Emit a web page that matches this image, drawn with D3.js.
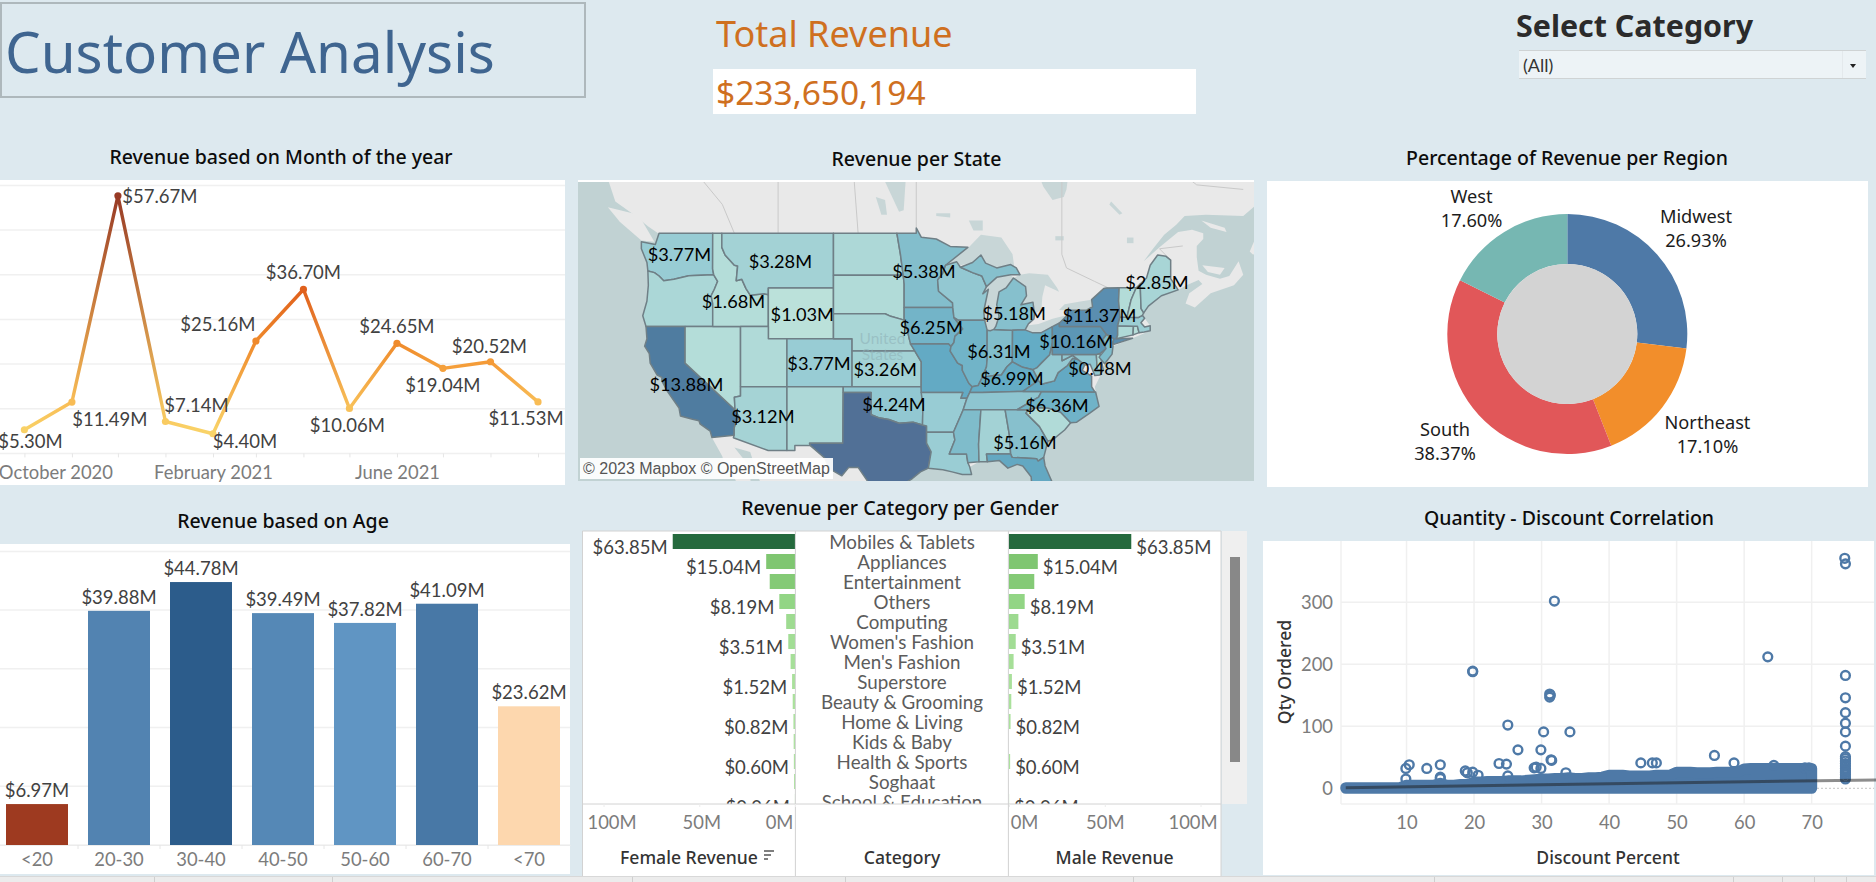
<!DOCTYPE html>
<html>
<head>
<meta charset="utf-8">
<script src="https://cdn.jsdelivr.net/npm/d3@7"></script>
<style>
  body { margin:0; background:#dde9ef; overflow:hidden; }
  svg { display:block; }
  text { font-family:Lato, sans-serif; }
  .ttl { font-family:"Noto Sans", sans-serif; font-weight:500; font-size:19.5px; fill:#0c0c0c; text-anchor:middle; dominant-baseline:central; }
  .val { font-size:18.5px; fill:#414141; dominant-baseline:central; }
  .maplab { font-size:18.2px; fill:#000; text-anchor:middle; dominant-baseline:central; }
  .tick-lab { font-size:18.4px; fill:#7c7c7c; }
  .axt { font-family:"Noto Sans", sans-serif; font-weight:500; font-size:17.6px; fill:#333; text-anchor:middle; dominant-baseline:central; }
  .head { font-family:"Noto Sans", sans-serif; }
</style>
</head>
<body>
<script>
// ---- line chart
const months = ["2020-10-01","2020-11-01","2020-12-01","2021-01-01","2021-02-01","2021-03-01","2021-04-01","2021-05-01","2021-06-01","2021-07-01","2021-08-01","2021-09-01"];
const monthRevenue = [5.30,11.49,57.67,7.14,4.40,25.16,36.70,10.06,24.65,19.04,20.52,11.53];

// ---- region donut
const regions = ["Midwest","Northeast","South","West"];
const regionShare = [26.93,17.10,38.37,17.60];

// ---- age bars
const ageGroups = ["<20","20-30","30-40","40-50","50-60","60-70","<70"];
const ageRevenue = [6.97,39.88,44.78,39.49,37.82,41.09,23.62];

// ---- category / gender
const categories = ["Mobiles & Tablets","Appliances","Entertainment","Others","Computing","Women's Fashion","Men's Fashion","Superstore","Beauty & Grooming","Home & Living","Kids & Baby","Health & Sports","Soghaat","School & Education"];
const femaleRevenue = [63.85,15.04,13.2,8.19,4.6,3.51,2.3,1.52,1.2,0.82,0.7,0.60,0.5,0.06];
const maleRevenue = [63.85,15.04,13.2,8.19,4.9,3.51,2.4,1.52,1.2,0.82,0,0.60,0,0.06];
const labelledRows = [0,1,3,5,7,9,11,13];

// ---- scatter
const outlierDiscount = [74.9,75,31.9,63.5,75,19.8,19.8,31.2,31.2,31.3,75,75,75,75,75,25,30.3,34.2,26.5,29.9,31.4,31.5,55.6,58.5,44.7,46.4,47,64.4,10.4,9.9,13,15,18.7,19,19.8,20.6,23.7,24.8,25,28.9,29.2,29.9,33.6,75,75,75,75,75,75,75,75,75,75,75,9.9,15,15,69,69.6];
const outlierQty = [371,362,302,212,182,188,189,152,147,150,146,122,105,91,68,102,91,91,62,62,46,45,53,41,41,41,41,37,38,32,32,38,28,25,26,21,40,39,20,33,34,32,25,51,48,44,40,36,32,28,25,22,18,15,15,18,16,33,33];
const bandDiscount = [1,2,3,4,5,6,7,8,9,10,11,12,13,14,15,16,17,18,19,20,21,22,23,24,25,26,27,28,29,30,31,32,33,34,35,36,37,38,39,40,41,42,43,44,45,46,47,48,49,50,51,52,53,54,55,56,57,58,59,60,61,62,63,64,65,66,67,68,69,70];
const bandQty = [1,1,1,1,1,1,1,1,1,5,5,5,5,5,8,5,5,6,6,10,10,11,11,11,12,12,12,13,14,15,15,16,16,17,16,16,17,17,18,21,21,21,20,20,20,20,21,21,21,26,26,26,25,25,25,26,26,26,26,31,32,32,32,32,32,32,32,32,32,32];
const trendDiscount = [1,80];
const trendQty = [1,13.6];

// ---- map, rings are lon/lat
const stateNames = ["WA","OR","CA","NV","ID","MT","WY","UT","CO","AZ","NM","ND","SD","NE","KS","OK","TX","MN","IA","MO","AR","LA","WI","IL","IN","MI","MI upper","OH","KY","TN","MS","AL","GA","FL","SC","NC","VA","WV","MD","DE","PA","NY","NJ","CT","RI","MA","VT","NH","ME"];
const stateRevenue = [3.77,2.5,13.88,1.7,1.68,3.28,1.03,2.1,3.77,3.12,2.4,2.4,2.0,2.7,3.26,4.24,14.8,5.38,6.25,7.3,3.8,3.7,4.2,6.31,5.5,5.18,5.18,7.0,6.99,4.6,5.6,3.3,5.16,7.6,2.0,6.36,7.4,4.1,4.3,2.0,10.16,11.37,5.6,2.2,1.5,3.6,1.8,1.6,2.85];
const stateRings = [
 [[-124.7,48.4],[-123.2,48.2],[-122.8,49],[-117.03,49],[-117.04,46.42],[-116.92,45.99],[-119,45.93],[-119.6,45.92],[-121.2,45.65],[-122.3,45.55],[-122.8,45.9],[-123.3,46.15],[-124,46.27],[-124.1,46.9],[-124.7,47.9]],
 [[-124,46.27],[-123.3,46.15],[-122.8,45.9],[-122.3,45.55],[-121.2,45.65],[-119.6,45.92],[-119,45.93],[-116.92,45.99],[-116.5,45.5],[-116.85,44.9],[-117.2,44.4],[-117.03,43.8],[-117.03,42],[-124.2,42],[-124.55,42.85],[-124.1,44],[-123.95,45.2]],
 [[-124.2,42],[-120,42],[-120,39],[-114.63,35],[-114.15,34.3],[-114.5,33.9],[-114.72,33.4],[-114.72,32.72],[-117.12,32.53],[-117.3,33.1],[-118.4,33.75],[-118.5,34.03],[-119.2,34.15],[-120.5,34.45],[-120.65,35.15],[-121.9,36.6],[-122.5,37.5],[-122.5,37.8],[-123,38],[-123.75,39],[-123.85,39.8],[-124.35,40.4],[-124.1,41]],
 [[-120,42],[-114.04,42],[-114.04,36.2],[-114.7,36.1],[-114.63,35],[-120,39]],
 [[-117.03,49],[-116.05,49],[-116.05,48],[-115.7,47.45],[-114.7,46.7],[-114.35,46.65],[-114.5,45.55],[-113.9,45.65],[-113.45,44.95],[-113,44.45],[-111.5,44.55],[-111.05,44.48],[-111.05,42],[-117.03,42],[-117.03,43.8],[-117.2,44.4],[-116.85,44.9],[-116.5,45.5],[-116.92,45.99],[-117.04,46.42]],
 [[-116.05,49],[-104.05,49],[-104.05,45],[-111.05,45],[-111.05,44.48],[-111.5,44.55],[-113,44.45],[-113.45,44.95],[-113.9,45.65],[-114.5,45.55],[-114.35,46.65],[-114.7,46.7],[-115.7,47.45],[-116.05,48]],
 [[-111.05,45],[-104.05,45],[-104.05,41],[-111.05,41]],
 [[-114.04,42],[-111.05,42],[-111.05,41],[-109.05,41],[-109.05,37],[-114.04,37]],
 [[-109.05,41],[-102.05,41],[-102.05,37],[-109.05,37]],
 [[-114.04,37],[-109.05,37],[-109.05,31.33],[-111.07,31.33],[-114.81,32.5],[-114.72,32.72],[-114.72,33.4],[-114.5,33.9],[-114.15,34.3],[-114.63,35],[-114.7,36.1],[-114.04,36.2]],
 [[-109.05,37],[-103,37],[-103.05,32],[-106.62,32],[-106.53,31.78],[-108.2,31.78],[-108.2,31.33],[-109.05,31.33]],
 [[-104.05,49],[-97.23,49],[-96.85,47.5],[-96.55,45.95],[-104.05,45.95]],
 [[-104.05,45.95],[-96.55,45.95],[-96.45,45.3],[-96.45,42.5],[-97.9,42.8],[-98.5,43],[-104.05,43]],
 [[-104.05,43],[-98.5,43],[-97.9,42.8],[-96.45,42.5],[-96.1,41.7],[-95.9,41],[-95.3,40],[-102.05,40],[-102.05,41],[-104.05,41]],
 [[-102.05,40],[-95.3,40],[-94.61,39.1],[-94.62,37],[-102.05,37]],
 [[-103,37],[-94.62,37],[-94.43,35.4],[-94.48,33.64],[-95.5,33.9],[-97,33.8],[-98.1,34.13],[-99.2,34.3],[-100,34.56],[-100,36.5],[-103,36.5]],
 [[-106.62,32],[-103.05,32],[-103,36.5],[-100,36.5],[-100,34.56],[-99.2,34.3],[-98.1,34.13],[-97,33.8],[-95.5,33.9],[-94.48,33.64],[-94.04,33.55],[-94.04,32],[-93.55,31.2],[-93.85,29.7],[-94.7,29.35],[-95.6,28.7],[-97.1,27.9],[-97.4,27],[-97.15,25.96],[-98.2,26.05],[-99.1,26.4],[-99.5,27.5],[-100.4,28.5],[-101.4,29.77],[-102.4,29.77],[-103.15,28.98],[-104.5,29.65],[-105,30.65],[-106.53,31.78]],
 [[-97.23,49],[-95.15,49],[-95.15,49.38],[-94.6,48.72],[-93,48.6],[-91.5,48.07],[-89.6,48],[-92,46.7],[-92.3,46.1],[-92.85,45.6],[-92.75,44.75],[-91.25,43.85],[-91.22,43.5],[-96.45,43.5],[-96.45,45.3],[-96.55,45.95],[-96.85,47.5]],
 [[-96.45,43.5],[-91.22,43.5],[-91.1,42.7],[-90.15,41.8],[-91,41.2],[-91.1,40.7],[-91.42,40.38],[-91.7,40.6],[-95.77,40.58],[-95.9,41],[-96.1,41.7],[-96.45,42.5]],
 [[-95.77,40.58],[-91.7,40.6],[-91.42,40.38],[-91.5,40],[-90.7,39],[-90.2,38.8],[-90.2,38.4],[-89.5,37.3],[-89.13,37],[-89.4,36.5],[-89.7,36],[-90.37,36],[-90.15,36.5],[-94.62,36.5],[-94.62,37],[-94.61,39.1],[-95.3,40]],
 [[-94.62,36.5],[-90.15,36.5],[-90.37,36],[-89.7,36],[-90.1,35],[-91.15,33],[-94.04,33],[-94.04,33.55],[-94.48,33.64],[-94.43,35.4]],
 [[-94.04,33],[-91.15,33],[-91,32.3],[-91.6,31],[-89.75,31],[-89.6,30.2],[-89.4,29.8],[-89.2,29.1],[-90.2,29.1],[-91.3,29.35],[-92.3,29.55],[-93.85,29.7],[-93.55,31.2],[-94.04,32]],
 [[-92.3,46.1],[-92,46.7],[-90.8,46.95],[-90.4,46.55],[-89.1,46.15],[-88.1,45.9],[-87.6,45.1],[-88,44.55],[-87.4,44.9],[-87.9,43.2],[-87.8,42.5],[-90.65,42.5],[-91.1,42.7],[-91.22,43.5],[-91.25,43.85],[-92.75,44.75],[-92.85,45.6]],
 [[-90.65,42.5],[-87.8,42.5],[-87.53,41.7],[-87.53,39.3],[-87.6,38.7],[-88.05,37.8],[-88.5,37.1],[-89.13,37],[-89.5,37.3],[-90.2,38.4],[-90.2,38.8],[-90.7,39],[-91.5,40],[-91.42,40.38],[-91.1,40.7],[-91,41.2],[-90.15,41.8],[-91.1,42.7]],
 [[-87.53,41.7],[-87.2,41.65],[-86.8,41.76],[-84.8,41.7],[-84.82,39.1],[-85.4,38.7],[-86,38],[-86.8,37.95],[-88.05,37.8],[-87.6,38.7],[-87.53,39.3]],
 [[-86.8,41.76],[-84.8,41.7],[-83.45,41.72],[-83.1,42.2],[-82.5,42.6],[-82.45,43],[-82.6,43.9],[-83.9,43.7],[-83.3,44.4],[-83.4,45.1],[-84.7,45.75],[-85.5,45],[-86.25,44.7],[-86.5,43.7],[-86.25,42.8],[-86.6,42]],
 [[-90.4,46.55],[-89.1,46.9],[-88.2,47.45],[-87.7,46.85],[-86.5,46.5],[-85,46.75],[-84.4,46.5],[-84,46],[-85,46],[-86.5,45.8],[-87.6,45.1],[-88.1,45.9],[-89.1,46.15]],
 [[-84.8,41.7],[-83.45,41.72],[-82.7,41.5],[-81.7,41.5],[-80.52,41.98],[-80.52,40.64],[-80.8,39.7],[-81.7,39],[-82.2,38.6],[-82.6,38.45],[-83.7,38.65],[-84.82,39.1]],
 [[-89.4,36.5],[-89.13,37],[-88.5,37.1],[-88.05,37.8],[-86.8,37.95],[-86,38],[-85.4,38.7],[-84.82,39.1],[-83.7,38.65],[-82.6,38.45],[-82,37.55],[-83.68,36.6],[-88.07,36.5]],
 [[-90.1,35],[-89.7,36],[-89.4,36.5],[-88.07,36.5],[-83.68,36.6],[-81.68,36.59],[-82,36.1],[-84.3,35]],
 [[-91.15,33],[-90.1,35],[-88.2,35],[-88.45,31.9],[-88.4,30.3],[-89.6,30.2],[-89.75,31],[-91.6,31],[-91,32.3]],
 [[-88.2,35],[-85.6,35],[-85.15,32.8],[-85,31],[-87.6,31],[-87.5,30.3],[-88.4,30.3],[-88.45,31.9]],
 [[-85.6,35],[-83.1,35],[-83.35,34.7],[-81.9,33.5],[-81,32.2],[-81.45,30.7],[-82.05,30.36],[-82.2,30.57],[-84.85,30.7],[-85,31],[-85.15,32.8]],
 [[-87.6,31],[-85,31],[-84.85,30.7],[-82.2,30.57],[-82.05,30.36],[-81.45,30.7],[-81.3,29.9],[-80.55,28.4],[-80.05,26.9],[-80.15,25.7],[-81.1,25.1],[-81.8,26.1],[-82.7,27.7],[-82.8,28.9],[-83.7,29.9],[-84.3,30.05],[-85.3,29.7],[-86.2,30.4],[-87.5,30.3]],
 [[-83.1,35],[-82.3,35.2],[-81,35.15],[-79.65,34.8],[-78.55,33.85],[-79.2,33.2],[-80.5,32.3],[-81,32.2],[-81.9,33.5],[-83.35,34.7]],
 [[-84.3,35],[-82,36.1],[-81.68,36.59],[-75.87,36.55],[-75.5,35.3],[-76.5,34.7],[-77.9,33.9],[-78.55,33.85],[-79.65,34.8],[-81,35.15],[-82.3,35.2],[-83.1,35]],
 [[-83.68,36.6],[-82,37.55],[-81.7,37.2],[-81.3,37.3],[-80.3,37.5],[-79.9,38.2],[-78.9,38.8],[-78.35,39.4],[-77.75,39.3],[-77.05,38.85],[-77.3,38.4],[-76.3,37.9],[-76.3,37],[-75.95,36.55],[-81.68,36.59]],
 [[-82.6,38.45],[-82.2,38.6],[-81.7,39],[-80.8,39.7],[-80.52,40.64],[-80.52,39.72],[-79.48,39.72],[-79.48,39.2],[-78.35,39.65],[-77.75,39.3],[-78.35,39.4],[-78.9,38.8],[-79.9,38.2],[-80.3,37.5],[-81.3,37.3],[-81.7,37.2],[-82,37.55]],
 [[-79.48,39.72],[-75.79,39.72],[-75.7,38.46],[-75.05,38.45],[-75.4,38],[-75.95,37.95],[-76.45,38.9],[-77.05,38.85],[-77.75,39.3],[-78.35,39.65],[-79.48,39.2]],
 [[-75.79,39.72],[-75.4,39.8],[-75.05,38.45],[-75.7,38.46]],
 [[-80.52,41.98],[-79.76,42.27],[-79.76,42],[-75.35,42],[-74.7,41.35],[-75.1,40.95],[-74.75,40.2],[-75.4,39.8],[-75.79,39.72],[-80.52,39.72]],
 [[-79.76,42.27],[-78.9,42.9],[-79.05,43.27],[-76.8,43.3],[-76.2,43.55],[-76.3,44.1],[-75,44.95],[-74.7,45],[-73.34,45.01],[-73.4,44],[-73.25,42.75],[-73.5,42.05],[-73.5,41.3],[-73.65,41],[-71.9,41.05],[-73.9,40.55],[-74.05,40.7],[-73.9,41],[-74.7,41.35],[-75.35,42],[-79.76,42]],
 [[-74.7,41.35],[-73.9,41],[-74.05,40.7],[-74,40.4],[-74.1,39.75],[-74.9,38.95],[-75.5,39.5],[-74.75,40.2],[-75.1,40.95]],
 [[-73.5,42.05],[-71.8,42.02],[-71.85,41.32],[-73.65,41],[-73.5,41.3]],
 [[-71.8,42.02],[-71.38,42.02],[-71.2,41.5],[-71.85,41.32]],
 [[-73.25,42.75],[-71.3,42.7],[-70.85,42.88],[-70.6,42.65],[-71,42.3],[-70.6,41.95],[-70,42.05],[-70,41.65],[-70.65,41.55],[-71.2,41.5],[-71.38,42.02],[-71.8,42.02],[-73.5,42.05]],
 [[-73.34,45.01],[-71.5,45.01],[-72.05,44.1],[-72.5,42.73],[-73.25,42.75],[-73.4,44]],
 [[-71.5,45.01],[-71.08,45.3],[-70.98,43.4],[-70.7,43.07],[-70.85,42.88],[-71.3,42.7],[-72.5,42.73],[-72.05,44.1]],
 [[-71.08,45.3],[-70.4,45.75],[-70,46.7],[-69.2,47.45],[-68.3,47.35],[-67.8,47.07],[-67.8,45.7],[-67,44.85],[-68.8,44.4],[-70.2,43.6],[-70.7,43.07],[-70.98,43.4]]
];
// labels stand where Tableau left them, not on state centres
const mapLabelValues = [3.77,3.28,1.68,1.03,3.77,3.26,13.88,3.12,4.24,5.38,6.25,5.18,11.37,10.16,6.31,6.99,0.48,6.36,5.16,2.85];
const mapLabelLon = [-120.61,-109.76,-114.8,-107.4,-105.6,-98.49,-119.85,-111.64,-97.54,-94.32,-93.55,-84.62,-75.45,-77.95,-86.26,-84.86,-75.4,-80.02,-83.46,-69.27];
const mapLabelLat = [47.5,46.98,44.02,42.96,39.0,38.48,37.2,34.42,35.48,46.26,41.92,43.04,42.92,40.8,39.98,37.72,38.6,35.44,32.08,45.48];

const landRings = [
 [[-135,54],[-129,54],[-128.2,52.5],[-127.5,51.2],[-125.5,50.3],[-124,49.5],[-122.9,49],[-122.5,48.6],[-122.4,47.5],[-122.9,47.2],[-123.3,48.1],[-124.7,48.4],[-124.1,46.9],[-124,46.27],[-123.95,45.2],[-124.1,44],[-124.55,42.85],[-124.2,42],[-124.1,41],[-124.35,40.4],[-123.85,39.8],[-123.75,39],[-123,38],[-122.5,37.8],[-122.5,37.5],[-121.9,36.6],[-120.65,35.15],[-120.5,34.45],[-119.2,34.15],[-118.5,34.03],[-118.4,33.75],[-117.3,33.1],[-117.12,32.53],[-116,30.8],[-115.7,29.8],[-114.7,28.8],[-114,27.5],[-112.8,27.5],[-113.2,30],[-114.7,31.6],[-113,31.2],[-112.2,29],[-111.5,27.5],[-97.6,25],[-97.15,25.9],[-97.4,27],[-97.1,27.9],[-95.6,28.7],[-94.7,29.35],[-93.85,29.7],[-89.2,29.1],[-89.4,29.8],[-88.4,30.3],[-87.5,30.3],[-86.2,30.4],[-85.3,29.7],[-84.3,30.05],[-83.7,29.9],[-82.8,28.9],[-82.7,27.7],[-80.5,25.5],[-80.05,26.9],[-80.55,28.4],[-81.3,29.9],[-81.45,30.7],[-81,32.2],[-80.5,32.3],[-79.2,33.2],[-78.55,33.85],[-77.9,33.9],[-76.5,34.7],[-75.5,35.3],[-75.87,36.55],[-75.95,37],[-75.05,38.45],[-74.9,38.95],[-74.1,39.75],[-74,40.4],[-71.9,41.05],[-70,41.65],[-70,42.05],[-70.85,42.88],[-70.2,43.6],[-68.8,44.4],[-67,44.85],[-66.1,45.2],[-64.8,45.6],[-64.4,45.3],[-65.8,44.6],[-66.2,43.8],[-65.2,43.5],[-63.5,44.6],[-61,45.2],[-60,46],[-60.5,47],[-61.5,45.9],[-62.5,45.7],[-64,46],[-64.8,46.3],[-65,47.3],[-65,48.1],[-64.3,48.6],[-64.3,49],[-65.5,49.25],[-67,49.1],[-69,48],[-70.7,47],[-69.7,47.9],[-68.5,48.9],[-67.2,49.6],[-66.3,50.2],[-64,50.3],[-60,50.2],[-58,51.3],[-56,52.5],[-55,54]],
 [[-128.3,50.8],[-125,50.3],[-123.3,48.4],[-124.7,48.5],[-127,49.8]],
 [[-59.3,47.7],[-57.5,50.5],[-56,51.5],[-55,51],[-52,47],[-59,47.5]],
 [[-64.5,49.9],[-62,49.4],[-61.8,49.1],[-63.5,49.4]],
 [[-64.4,46.7],[-62,46.5],[-62.5,46],[-63.8,46.2]]
];
const waterRings = [
 [[-92,46.7],[-90.8,46.95],[-90.4,46.7],[-89.1,46.9],[-88.2,47.45],[-87.7,46.85],[-86.5,46.5],[-85,46.75],[-84.6,46.5],[-84.8,47.5],[-86,48.7],[-88.2,48.9],[-89.5,48],[-90.8,47.6]],
 [[-86.5,45.8],[-85,46],[-84.7,45.75],[-85.5,45],[-86.25,44.7],[-86.5,43.7],[-86.25,42.8],[-86.6,42],[-86.8,41.76],[-87.2,41.65],[-87.53,41.7],[-87.8,42.5],[-87.9,43.2],[-87.4,44.9],[-88,44.55],[-87.6,45.1]],
 [[-84.7,45.75],[-84,46],[-83,46.1],[-81,46],[-80,45],[-79.8,44.7],[-81.3,45.2],[-81.6,44.3],[-81.7,43.3],[-82.45,43],[-82.6,43.9],[-83.9,43.7],[-83.3,44.4],[-83.4,45.1]],
 [[-83.45,41.72],[-82.7,41.5],[-81.7,41.5],[-80.52,41.98],[-79.76,42.27],[-78.9,42.9],[-80.5,42.6],[-82,42.2],[-83.1,42.1]],
 [[-79.8,43.3],[-79.05,43.27],[-76.8,43.3],[-76.2,43.55],[-76.3,44.1],[-77.5,43.95],[-79.2,43.75]],
 [[-81,53.5],[-82,53],[-81.5,52.2],[-80.5,51.3],[-79.3,51.5],[-79,52],[-78.8,53],[-79,54],[-81,54]],
 [[-98,53.5],[-96.3,52.5],[-96.5,50.6],[-97,50.5],[-98.5,52.5]],
 [[-99.5,51.5],[-98.5,51.3],[-98.3,50.3],[-98.9,50.3]],
 [[-89.5,49.9],[-88,49.9],[-88,49.2],[-89,49.2]],
 [[-93,50.4],[-91.5,50.4],[-91.5,50.1],[-93,50.2]],
 [[-80.2,48.8],[-79.3,48.8],[-79.3,48.5],[-80.2,48.5]],
 [[-72.5,48.7],[-71.8,48.7],[-71.8,48.3],[-72.5,48.3]],
 [[-74.2,51.2],[-73,50.4],[-73.3,50.3],[-74.4,51]]
];
const borderLines = [
 [[-120,54],[-120,53.8],[-118,52.5],[-116,51],[-114.7,49]],
 [[-110,54],[-110,49]],
 [[-102,54],[-101.4,49]],
 [[-95.15,53],[-95.15,49.4]],
 [[-79.5,54],[-79.5,47.5],[-79,46.5],[-76,45.5],[-74.5,45]],
 [[-67.8,47.07],[-69,47.9],[-66.5,48.1]],
 [[-66.5,53],[-65,52.3],[-60,52]]
];

const W = 1876, H = 882;
const svg = d3.select("body").append("svg").attr("width",W).attr("height",H);
const defs = svg.append("defs");

function box(x,y,w,h,fill){
  return svg.append("rect").attr("x",x).attr("y",y).attr("width",w).attr("height",h).attr("fill",fill);
}
function title(txt,x,y){
  svg.append("text").attr("class","ttl").attr("x",x).attr("y",y).text(txt);
}
const money = function(v){ return "$"+v.toFixed(2)+"M"; };

// ---------- header
box(1,3,584,94,"#dde9ef").attr("stroke","#aeb8bc").attr("stroke-width",2);
svg.append("text").attr("class","head").attr("x",5).attr("y",73).attr("font-size",56.5).attr("fill","#3f6590").text("Customer Analysis");
svg.append("text").attr("class","head").attr("x",716).attr("y",47).attr("font-size",36).attr("fill","#cf701f").text("Total Revenue");
box(713,69,483,45,"#fff");
svg.append("text").attr("class","head").attr("x",716).attr("y",105).attr("font-size",33.5).attr("fill","#cf701f").text("$233,650,194");
svg.append("text").attr("class","head").attr("x",1516).attr("y",37).attr("font-weight",700).attr("font-size",30.4).attr("fill","#2b2b2b").text("Select Category");
box(1519,50,347,29,"#edf3f6");
box(1519,50,347,1,"#cfd3d4");
box(1519,78,347,1,"#cfd3d4");
box(1842,51,1,27,"#e4e9ec");
svg.append("text").attr("x",1523).attr("y",72).attr("font-size",18).attr("fill","#333").text("(All)");
svg.append("path").attr("d",d3.line()([[1850,64],[1856,64],[1853,68]])).attr("fill","#222");

// ---------- line chart
title("Revenue based on Month of the year",281,156);
box(0,180,565,305,"#fff");
const parseDay = d3.utcParse("%Y-%m-%d");
const monthDates = months.map(parseDay);
const xLine = d3.scaleUtc().domain([monthDates[0],monthDates[11]]).range([24.4,538]);
const yLine = d3.scaleLinear().domain([0,60]).range([453.4,185.4]);
const lineColor = d3.scaleLinear().domain([4.4,11.5,20,25,36.7,57.67]).range(["#f9d469","#f8bc55","#f59c38","#ef8a2b","#e0601c","#983a25"]);

svg.append("g").selectAll("line").data(yLine.ticks(6)).enter().append("line")
  .attr("x1",0).attr("x2",565)
  .attr("y1",function(d){ return yLine(d); }).attr("y2",function(d){ return yLine(d); })
  .attr("stroke","#f0f0f0").attr("stroke-width",1.5);

const xLineLabels = {"2020-10-01":"October 2020","2021-02-01":"February 2021","2021-06-01":"June 2021"};
const xLineAxis = svg.append("g").attr("transform","translate(0,453.4)")
  .call(d3.axisBottom(xLine).tickValues(monthDates).tickSize(4).tickPadding(9).tickFormat(function(d){
    return xLineLabels[d3.utcFormat("%Y-%m-%d")(d)] || "";
  }));
xLineAxis.select(".domain").remove();
xLineAxis.selectAll("line").attr("stroke","#e6e6e6");
xLineAxis.selectAll("text").attr("class","tick-lab").attr("font-family",null).attr("font-size",null)
  .attr("dy","0.71em")
  .attr("dx",function(d,i){ return i==0 ? 31 : 0; });

monthRevenue.slice(1).forEach(function(v,i){
  const a = monthDates[i], b = monthDates[i+1];
  const id = "seg"+i;
  const grad = defs.append("linearGradient").attr("id",id).attr("gradientUnits","userSpaceOnUse")
    .attr("x1",xLine(a)).attr("y1",yLine(monthRevenue[i])).attr("x2",xLine(b)).attr("y2",yLine(v));
  grad.append("stop").attr("offset",0).attr("stop-color",lineColor(monthRevenue[i]));
  grad.append("stop").attr("offset",1).attr("stop-color",lineColor(v));
  svg.append("line").attr("x1",xLine(a)).attr("y1",yLine(monthRevenue[i])).attr("x2",xLine(b)).attr("y2",yLine(v))
    .attr("stroke","url(#"+id+")").attr("stroke-width",3.4).attr("stroke-linecap","round");
});
svg.append("g").selectAll("circle").data(monthRevenue).enter().append("circle")
  .attr("cx",function(d,i){ return xLine(monthDates[i]); })
  .attr("cy",function(d){ return yLine(d); })
  .attr("r",3.6).attr("fill",function(d){ return lineColor(d); });

// label offset from its point, centre of the text
const lineLabelDx = [6,38,42,31,32,-38,0,-2,0,0,-1,-12];
const lineLabelDy = [11,17,0,-16.5,7,-17,-17,16.5,-17,17,-16,16];
svg.append("g").selectAll("text").data(monthRevenue).enter().append("text")
  .attr("class","val").attr("text-anchor","middle")
  .attr("x",function(d,i){ return xLine(monthDates[i])+lineLabelDx[i]; })
  .attr("y",function(d,i){ return yLine(d)+lineLabelDy[i]; })
  .text(money);

// ---------- map
title("Revenue per State",916.5,158);
box(578,180,676,2,"#fff");
const mapClip = defs.append("clipPath").attr("id","mapclip");
mapClip.append("rect").attr("x",578).attr("y",182).attr("width",676).attr("height",299);
const projection = d3.geoMercator().scale(533).translate([1801.4,757.7]);
const ring2path = function(r){ return d3.line().curve(d3.curveLinearClosed)(r.map(function(p){ return projection(p); })); };
const stateColor = d3.scaleLinear().domain([1.03,3.3,3.77,5.3,7,10.2,11.4,13.9,14.8]).range(["#bbe1da","#a3d2d5","#98ccd4","#85bfcc","#64acc5","#5c97b5","#5a8eb0","#4f7ca0","#517096"]);

const map = svg.append("g").attr("clip-path","url(#mapclip)");
map.append("rect").attr("x",578).attr("y",182).attr("width",676).attr("height",299).attr("fill","#c1d2d3");
map.append("g").selectAll("path").data(landRings).enter().append("path").attr("d",ring2path).attr("fill","#e9e9e9");
map.append("g").selectAll("path").data(waterRings).enter().append("path").attr("d",ring2path).attr("fill","#c8d6d7");
map.append("g").selectAll("path").data(borderLines).enter().append("path")
  .attr("d",function(d){ return d3.line()(d.map(function(p){ return projection(p); })); })
  .attr("fill","none").attr("stroke","#c9c9c9").attr("stroke-width",1);
map.append("g").selectAll("path").data(stateRings).enter().append("path")
  .attr("d",ring2path)
  .attr("fill",function(d,i){ return stateColor(stateRevenue[i]); })
  .attr("stroke","#6f7f86").attr("stroke-width",1.5).attr("stroke-linejoin","round");
map.append("text").attr("x",882.5).attr("y",344).attr("text-anchor","middle").attr("font-size",15.5).attr("fill","#8fb2b8").attr("fill-opacity",.6).text("United");
map.append("text").attr("x",882.5).attr("y",360).attr("text-anchor","middle").attr("font-size",15.5).attr("fill","#8fb2b8").attr("fill-opacity",.6).text("States");
map.append("g").selectAll("text").data(mapLabelValues).enter().append("text")
  .attr("class","maplab")
  .attr("x",function(d,i){ return projection([mapLabelLon[i],mapLabelLat[i]])[0]; })
  .attr("y",function(d,i){ return projection([mapLabelLon[i],mapLabelLat[i]])[1]; })
  .text(money);
map.append("rect").attr("x",580).attr("y",458).attr("width",253).attr("height",21).attr("fill","#fff").attr("fill-opacity",.92);
map.append("text").attr("x",583).attr("y",474).style("font-family","Liberation Sans").attr("font-size",16).attr("fill","#555").text("© 2023 Mapbox © OpenStreetMap");

// ---------- donut
title("Percentage of Revenue per Region",1567,157);
box(1267,181,601,306,"#fff");
const regionColor = d3.scaleOrdinal().domain(regions).range(["#4e79a7","#f28e2b","#e15759","#76b7b2"]);
const pie = d3.pie().sort(null)(regionShare);
const arc = d3.arc().innerRadius(70).outerRadius(120);
const donut = svg.append("g").attr("transform","translate(1567.3,334)");
donut.selectAll("path").data(pie).enter().append("path")
  .attr("d",arc)
  .attr("fill",function(d,i){ return regionColor(regions[i]); });
donut.append("circle").attr("r",70).attr("fill","#d3d3d3");
const regionLabelX = [1696,1707.5,1445,1471.6];
const regionLabelY = [216.7,422.7,429.7,196.7];
regions.forEach(function(r,i){
  const t = svg.append("text").attr("class","head").attr("text-anchor","middle").attr("font-size",18.2).attr("fill","#1c1c1c");
  t.append("tspan").attr("x",regionLabelX[i]).attr("y",regionLabelY[i]+6).text(r);
  t.append("tspan").attr("x",regionLabelX[i]).attr("y",regionLabelY[i]+30).text(regionShare[i].toFixed(2)+"%");
});

// ---------- age bars
title("Revenue based on Age",283,520);
box(0,544,570,330,"#fff");
const xAge = d3.scaleBand().domain(ageGroups).range([-4,570]).paddingInner(0.244).paddingOuter(0.122);
const yAge = d3.scaleLinear().domain([0,50]).range([845,551.4]);
const ageColor = d3.scaleLinear().domain([6.97,23.62,37.82,39.49,39.88,41.09,44.78]).range(["#9e3a20","#fdd7ae","#6095c3","#5588b6","#5283b1","#4878a6","#2c5c8b"]);
svg.append("g").selectAll("line").data(yAge.ticks(5)).enter().append("line")
  .attr("x1",0).attr("x2",570)
  .attr("y1",function(d){ return yAge(d); }).attr("y2",function(d){ return yAge(d); })
  .attr("stroke","#f0f0f0").attr("stroke-width",1.5);
svg.append("g").selectAll("rect").data(ageRevenue).enter().append("rect")
  .attr("x",function(d,i){ return xAge(ageGroups[i]); })
  .attr("width",xAge.bandwidth())
  .attr("y",function(d){ return yAge(d); })
  .attr("height",function(d){ return yAge(0)-yAge(d); })
  .attr("fill",function(d){ return ageColor(d); });
svg.append("g").selectAll("text").data(ageRevenue).enter().append("text")
  .attr("class","val").attr("text-anchor","middle")
  .attr("x",function(d,i){ return xAge(ageGroups[i])+xAge.bandwidth()/2; })
  .attr("y",function(d){ return yAge(d)-14; })
  .text(money);
const xAgeAxis = svg.append("g").attr("transform","translate(0,845)").call(d3.axisBottom(xAge).tickSize(0).tickPadding(8));
xAgeAxis.select(".domain").attr("stroke","#ececec");
xAgeAxis.selectAll("text").attr("class","tick-lab").attr("font-family",null).attr("font-size",null);
svg.append("g").selectAll("line").data(ageGroups.slice(1)).enter().append("line")
  .attr("x1",function(d){ return xAge(d)-xAge.step()*0.122; })
  .attr("x2",function(d){ return xAge(d)-xAge.step()*0.122; })
  .attr("y1",845).attr("y2",849).attr("stroke","#e6e6e6");

// ---------- category per gender
title("Revenue per Category per Gender",900,507);
box(583,531,638,346,"#fff");
box(1222,531,25,273,"#efefef");
box(1230,557,10,205,"#888888");
const femaleX = d3.scaleLinear().domain([0,100]).range([795,603.5]);
const maleX = d3.scaleLinear().domain([0,100]).range([1009,1200.5]);
const rowY = d3.scaleBand().domain(categories).range([531.5,811.5]);
const greenColor = d3.scaleLinear().domain([0,8,15,63.85]).range(["#aee3a0","#93d586","#7fc671","#256a3d"]);
const rowClip = defs.append("clipPath").attr("id","rowclip");
rowClip.append("rect").attr("x",583).attr("y",531).attr("width",638).attr("height",273);
const rows = svg.append("g").attr("clip-path","url(#rowclip)");

rows.selectAll(".frow").data(femaleRevenue).enter().append("rect").attr("class","frow")
  .attr("x",function(d){ return femaleX(d); })
  .attr("width",function(d){ return femaleX(0)-femaleX(d); })
  .attr("y",function(d,i){ return rowY(categories[i])+2.5; })
  .attr("height",15)
  .attr("fill",function(d){ return greenColor(d); });
rows.selectAll(".mrow").data(maleRevenue).enter().append("rect").attr("class","mrow")
  .attr("x",maleX(0))
  .attr("width",function(d){ return maleX(d)-maleX(0); })
  .attr("y",function(d,i){ return rowY(categories[i])+2.5; })
  .attr("height",15)
  .attr("fill",function(d){ return greenColor(d); });
rows.selectAll(".catlab").data(categories).enter().append("text").attr("class","catlab")
  .attr("x",902).attr("y",function(d){ return rowY(d)+10; })
  .attr("text-anchor","middle").attr("dominant-baseline","central").attr("font-size",18.8).attr("fill","#5c5c5c")
  .text(function(d){ return d; });
rows.selectAll(".flab").data(labelledRows).enter().append("text").attr("class","val flab")
  .attr("text-anchor","end")
  .attr("x",function(r){ return femaleX(femaleRevenue[r])-5; })
  .attr("y",function(r){ return rowY(categories[r])+15; })
  .text(function(r){ return money(femaleRevenue[r]); });
rows.selectAll(".mlab").data(labelledRows).enter().append("text").attr("class","val mlab")
  .attr("x",function(r){ return maleX(maleRevenue[r])+5; })
  .attr("y",function(r){ return rowY(categories[r])+15; })
  .text(function(r){ return money(maleRevenue[r]); });

[582.5,795.4,1008.4,1221].forEach(function(x){
  svg.append("line").attr("x1",x).attr("x2",x).attr("y1",531).attr("y2",877).attr("stroke","#d2d2d2").attr("stroke-width",1);
});
svg.append("line").attr("x1",582.5).attr("x2",1221).attr("y1",531).attr("y2",531).attr("stroke","#d2d2d2");
svg.append("line").attr("x1",582.5).attr("x2",1221).attr("y1",804).attr("y2",804).attr("stroke","#d2d2d2");

const fAxis = svg.append("g").attr("transform","translate(0,804)")
  .call(d3.axisBottom(femaleX).tickValues([0,50,100]).tickSize(3).tickPadding(9).tickFormat(function(d){ return d+"M"; }));
const mAxis = svg.append("g").attr("transform","translate(0,804)")
  .call(d3.axisBottom(maleX).tickValues([0,50,100]).tickSize(3).tickPadding(9).tickFormat(function(d){ return d+"M"; }));
[fAxis,mAxis].forEach(function(a){
  a.select(".domain").remove();
  a.selectAll("line").attr("stroke","#ececec");
  a.selectAll("text").attr("class","tick-lab").attr("font-family",null).attr("font-size",null);
});
// end labels are pushed inside the pane
fAxis.selectAll("text").attr("dx",function(d){ return d==0 ? -16 : d==100 ? 8 : 2; });
mAxis.selectAll("text").attr("dx",function(d){ return d==0 ? 15 : d==100 ? -8 : 0; });

svg.append("text").attr("class","axt").attr("x",689).attr("y",857).text("Female Revenue");
svg.append("g").selectAll("line").data([10,7,4]).enter().append("line")
  .attr("x1",764).attr("x2",function(d){ return 764+d; })
  .attr("y1",function(d,i){ return 851+i*4; }).attr("y2",function(d,i){ return 851+i*4; })
  .attr("stroke","#555").attr("stroke-width",1.5);
svg.append("text").attr("class","axt").attr("x",902).attr("y",857).text("Category");
svg.append("text").attr("class","axt").attr("x",1114.6).attr("y",857).text("Male Revenue");

// ---------- scatter
title("Quantity - Discount Correlation",1569,517);
box(1263,541,611,334,"#fff");
const xDisc = d3.scaleLinear().domain([0,80]).range([1339,1879.2]);
const yQty = d3.scaleLinear().domain([0,300]).range([788.3,602.3]);
const dotBlue = "#4e79a7";

svg.append("g").selectAll("line").data([10,20,30,40,50,60,70]).enter().append("line")
  .attr("x1",function(d){ return xDisc(d); }).attr("x2",function(d){ return xDisc(d); })
  .attr("y1",541).attr("y2",804).attr("stroke","#f0f0f0").attr("stroke-width",1.5);
svg.append("g").selectAll("line").data([100,200,300]).enter().append("line")
  .attr("x1",1341).attr("x2",1874)
  .attr("y1",function(d){ return yQty(d); }).attr("y2",function(d){ return yQty(d); })
  .attr("stroke","#f0f0f0").attr("stroke-width",1.5);
svg.append("line").attr("x1",1341).attr("x2",1874).attr("y1",804).attr("y2",804).attr("stroke","#f0f0f0").attr("stroke-width",1.5);
svg.append("line").attr("x1",1341).attr("x2",1341).attr("y1",541).attr("y2",804).attr("stroke","#f0f0f0").attr("stroke-width",1.5);
svg.append("line").attr("x1",1341).attr("x2",1874).attr("y1",yQty(0)).attr("y2",yQty(0)).attr("stroke","#c4c4c4").attr("stroke-dasharray","2 2");

const xDiscAxis = svg.append("g").attr("transform","translate(0,804)")
  .call(d3.axisBottom(xDisc).tickValues([10,20,30,40,50,60,70]).tickSize(0).tickPadding(12));
xDiscAxis.select(".domain").remove();
xDiscAxis.selectAll("text").attr("class","tick-lab").attr("font-family",null).attr("font-size",null);
const yQtyAxis = svg.append("g").attr("transform","translate(1333,0)")
  .call(d3.axisLeft(yQty).tickValues([0,100,200,300]).tickSize(0).tickPadding(0));
yQtyAxis.select(".domain").remove();
yQtyAxis.selectAll("text").attr("class","tick-lab").attr("font-family",null).attr("font-size",null);

const bandArea = d3.area()
  .x(function(d,i){ return xDisc(bandDiscount[i]); })
  .y0(yQty(0))
  .y1(function(d){ return yQty(d); });
svg.append("path").attr("d",bandArea(bandQty))
  .attr("fill",dotBlue).attr("stroke",dotBlue).attr("stroke-width",11).attr("stroke-linejoin","round");
svg.append("g").selectAll("circle").data(outlierQty).enter().append("circle")
  .attr("cx",function(d,i){ return xDisc(outlierDiscount[i]); })
  .attr("cy",function(d){ return yQty(d); })
  .attr("r",4.4).attr("fill","none").attr("stroke",dotBlue).attr("stroke-width",2.4);
svg.append("path").attr("d",d3.line()
    .x(function(d,i){ return xDisc(trendDiscount[i]); })
    .y(function(d){ return yQty(d); })(trendQty))
  .attr("fill","none").attr("stroke","#1c1c1c").attr("stroke-opacity",.5).attr("stroke-width",3);

svg.append("text").attr("class","axt").attr("x",1608).attr("y",857).text("Discount Percent");
svg.append("text").attr("class","axt").attr("transform","translate(1284,672) rotate(-90)").text("Qty Ordered");

// ---------- tab strip at the bottom
box(0,877,W,5,"#ececec");
box(0,876,W,1,"#d8d8d8");
[154,332,632,845,1133,1434,1733,1782,1814,1846].forEach(function(x){
  box(x,877,1,5,"#cfcfcf");
});
</script>
</body>
</html>
